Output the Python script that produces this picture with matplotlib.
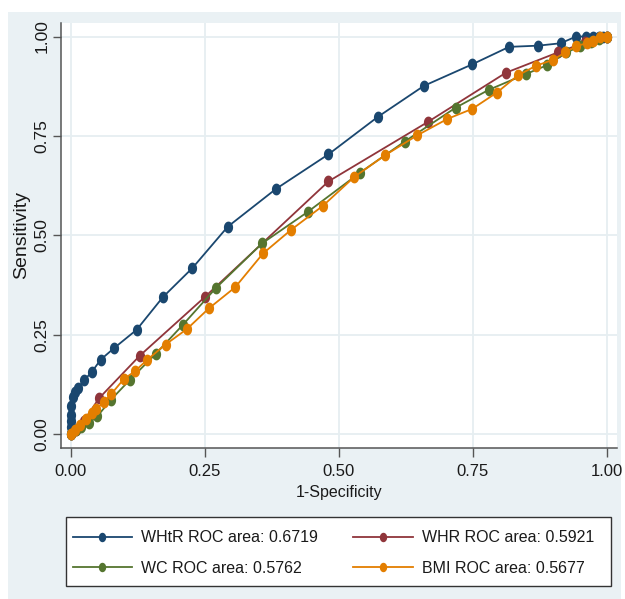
import matplotlib
matplotlib.use("Agg")
import matplotlib.pyplot as plt
from matplotlib.patches import Rectangle
from matplotlib.path import Path
import numpy as np

# ---- data ----
whtr_fpr = [0, 0, 0, 0, 0.001, 0.004, 0.008, 0.014, 0.025, 0.040, 0.056, 0.081, 0.123, 0.172,
            0.227, 0.293, 0.383, 0.481, 0.573, 0.659, 0.749, 0.818, 0.872, 0.914, 0.943,
            0.961, 0.975, 0.985, 0.993, 1.0]
whtr_sens = [0, 0.02, 0.035, 0.05, 0.072, 0.095, 0.107, 0.116, 0.136, 0.158, 0.188, 0.217, 0.263, 0.345,
             0.418, 0.522, 0.617, 0.704, 0.798, 0.876, 0.930, 0.974, 0.977, 0.983, 1.0,
             1.0, 1.0, 1.0, 1.0, 1.0]

whr_fpr = [0, 0.010, 0.025, 0.053, 0.129, 0.250, 0.481, 0.666, 0.812, 0.909, 0.960, 1.0]
whr_sens = [0, 0.012, 0.035, 0.091, 0.198, 0.345, 0.636, 0.785, 0.909, 0.960, 0.985, 1.0]

wc_fpr = [0, 0.010, 0.020, 0.035, 0.050, 0.075, 0.111, 0.159, 0.209, 0.271, 0.357, 0.442,
          0.540, 0.623, 0.718, 0.780, 0.850, 0.889, 0.925, 0.950, 0.970, 0.985, 1.0]
wc_sens = [0, 0.010, 0.020, 0.030, 0.046, 0.087, 0.138, 0.203, 0.275, 0.368, 0.480, 0.559,
           0.658, 0.736, 0.821, 0.866, 0.906, 0.928, 0.960, 0.975, 0.985, 0.993, 1.0]

bmi_fpr = [0, 0.008, 0.017, 0.029, 0.039, 0.048, 0.062, 0.076, 0.099, 0.120, 0.143, 0.177,
           0.217, 0.258, 0.307, 0.359, 0.411, 0.471, 0.529, 0.587, 0.647, 0.703, 0.749,
           0.795, 0.835, 0.869, 0.899, 0.923, 0.943, 0.963, 0.975, 0.988, 1.0]
bmi_sens = [0, 0.011, 0.024, 0.038, 0.053, 0.064, 0.082, 0.102, 0.139, 0.159, 0.188, 0.226,
            0.265, 0.317, 0.370, 0.455, 0.514, 0.575, 0.647, 0.702, 0.752, 0.793, 0.818,
            0.859, 0.903, 0.927, 0.941, 0.960, 0.976, 0.983, 0.989, 0.998, 1.0]

labels = ["WHtR ROC area: 0.6719", "WHR ROC area: 0.5921",
          "WC ROC area: 0.5762", "BMI ROC area: 0.5677"]
colors = ["#1a476f", "#90353b", "#55752f", "#e37e00"]
ticks = [0, 0.25, 0.5, 0.75, 1.0]
tick_labels = ["0.00", "0.25", "0.50", "0.75", "1.00"]

plt.rcParams['font.family'] = ["Liberation Sans", "DejaVu Sans"]

W, H = 625, 599
fig = plt.figure(figsize=(W / 100, H / 100), dpi=100)
fig.patch.set_facecolor("white")

# gray graph region
bg = "#eaf1f4"
fig.patches.append(Rectangle((8 / W, 0), (621 - 8) / W, 1 - 12 / H, transform=fig.transFigure,
                             facecolor=bg, edgecolor="none", zorder=-10))

ax_l, ax_r, ax_t, ax_b = 61, 616.7, 22.7, 448
ax = fig.add_axes([ax_l / W, 1 - ax_b / H, (ax_r - ax_l) / W, (ax_b - ax_t) / H])
ax.set_facecolor("white")

# ellipse marker (slightly taller than wide, like the stretched original)
t = np.linspace(0, 2 * np.pi, 40)
ell = Path(np.column_stack([0.78 * np.cos(t), np.sin(t)]), closed=True)

series = [(whtr_fpr, whtr_sens), (whr_fpr, whr_sens), (wc_fpr, wc_sens), (bmi_fpr, bmi_sens)]
handles = []
for i in range(4):
    x, y = series[i]
    h, = ax.plot(x, y, color=colors[i], lw=1.3, marker=ell, markersize=8.5,
                 markeredgewidth=0, label=labels[i], zorder=3 + i, clip_on=False)
    handles.append(h)

ax.set_xlim(-0.018, 1.0187)
ax.set_ylim(-0.034, 1.0347)
ax.set_xticks(ticks)
ax.set_xticklabels(tick_labels, fontsize=12)
ax.set_yticks(ticks)
ax.set_yticklabels(tick_labels, rotation=90, va="center", fontsize=12.5)
ax.grid(True, color="#e6eef1", lw=1.3, zorder=0)
ax.set_axisbelow(True)
for s in ["top", "right"]:
    ax.spines[s].set_visible(False)
for s in ["left", "bottom"]:
    ax.spines[s].set_color("#555555")
    ax.spines[s].set_linewidth(1.1)
ax.tick_params(axis="x", colors="#555555", length=6.5, width=1.0, labelcolor="#1a1a1a", pad=5)
ax.tick_params(axis="y", colors="#555555", length=5.5, width=1.0, labelcolor="#1a1a1a", pad=3)

ax.set_xlabel("1-Specificity", fontsize=11.5, color="#1a1a1a", labelpad=4)
ax.set_ylabel("Sensitivity", fontsize=14, color="#1a1a1a", labelpad=3)

# legend frame drawn explicitly to match the reference box
lx0, lx1, ly0, ly1 = 66, 611, 517, 586
fig.patches.append(Rectangle((lx0 / W, 1 - ly1 / H), (lx1 - lx0) / W, (ly1 - ly0) / H,
                             transform=fig.transFigure, facecolor="white",
                             edgecolor="#333333", lw=1.0, zorder=1))

leg_order = [0, 2, 1, 3]
leg = fig.legend(handles=[handles[i] for i in leg_order], labels=[labels[i] for i in leg_order],
                 ncol=2, loc="upper left", bbox_to_anchor=(72.5 / W, 1 - 530.5 / H),
                 fontsize=11.5, frameon=False, handlelength=3.75,
                 handletextpad=0.55, columnspacing=2.2, labelspacing=0.97,
                 borderpad=0, borderaxespad=0, markerscale=0.8)
leg.set_zorder(2)
for txt in leg.get_texts():
    txt.set_color("#1a1a1a")

fig.savefig("out.png", dpi=100, facecolor=fig.get_facecolor())
